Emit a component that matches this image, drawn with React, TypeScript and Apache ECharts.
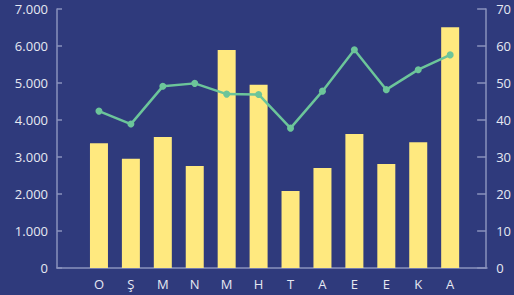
import React, { useEffect, useRef } from "react";
import * as echarts from "echarts";

const categories = ["O", "Ş", "M", "N", "M", "H", "T", "A", "E", "E", "K", "A"];
const barValues = [3370, 2950, 3540, 2760, 5890, 4950, 2080, 2700, 3620, 2810, 3400, 6510];
const lineValues = [42.4, 38.9, 49.1, 49.9, 47.0, 46.9, 37.8, 47.8, 59.0, 48.2, 53.6, 57.6];
const leftMax = 7000;
const leftInterval = 1000;
const rightMax = 70;
const rightInterval = 10;

const BG = "#2f3a7c";
const AXIS = "#8a92bd";
const TEXT = "#e6e8f2";
const FONT = "Open Sans";

export default function App() {
  const ref = useRef<HTMLDivElement>(null);
  useEffect(() => {
    document.body.style.margin = "0";
    const chart = echarts.init(ref.current!, null, { renderer: "svg" });
    chart.setOption({
      animation: false,
      backgroundColor: BG,
      textStyle: { fontFamily: FONT },
      grid: [
        { left: 83, right: 47, top: 9, bottom: 27 },
        { left: 57, right: 27, top: 9, bottom: 27 },
      ],
      xAxis: [
        {
          type: "category",
          data: categories,
          gridIndex: 0,
          axisLine: { show: false },
          axisTick: { show: false },
          axisLabel: { color: TEXT, fontSize: 13, fontFamily: FONT, margin: 9 },
        },
        {
          type: "value",
          gridIndex: 1,
          min: 0,
          max: 1,
          axisLine: { show: true, lineStyle: { color: AXIS, width: 1.5 } },
          axisTick: { show: false },
          axisLabel: { show: false },
          splitLine: { show: false },
        },
      ],
      yAxis: [
        {
          type: "value",
          gridIndex: 0,
          min: 0,
          max: leftMax,
          interval: leftInterval,
          position: "left",
          offset: 26,
          axisLine: { show: true, lineStyle: { color: AXIS, width: 1.5 } },
          axisTick: { show: true, inside: true, length: 5, lineStyle: { color: AXIS, width: 1.5 } },
          axisLabel: {
            color: TEXT,
            fontSize: 13,
            fontFamily: FONT,
            margin: 9,
            formatter: (v: number) => (v === 0 ? "0" : v.toLocaleString("de-DE")),
          },
          splitLine: { show: false },
        },
        {
          type: "value",
          gridIndex: 0,
          min: 0,
          max: rightMax,
          interval: rightInterval,
          position: "right",
          offset: 20,
          axisLine: { show: true, lineStyle: { color: AXIS, width: 1.5 } },
          axisTick: { show: true, inside: true, length: 9, lineStyle: { color: AXIS, width: 1.5 } },
          axisLabel: { color: TEXT, fontSize: 13, fontFamily: FONT, margin: 10 },
          splitLine: { show: false },
        },
        {
          type: "value",
          gridIndex: 1,
          show: false,
        },
      ],
      series: [
        {
          type: "bar",
          data: barValues,
          xAxisIndex: 0,
          yAxisIndex: 0,
          barWidth: 18,
          itemStyle: { color: "#ffe97f" },
        },
        {
          type: "line",
          data: lineValues,
          xAxisIndex: 0,
          yAxisIndex: 1,
          symbol: "circle",
          symbolSize: 7,
          lineStyle: { color: "#6cc59a", width: 2.5 },
          itemStyle: { color: "#6cc59a" },
          z: 3,
        },
      ],
    });
    return () => chart.dispose();
  }, []);
  return (
    <div
      ref={ref}
      style={{ position: "absolute", left: 0, top: 0, width: 514, height: 295 }}
    />
  );
}
